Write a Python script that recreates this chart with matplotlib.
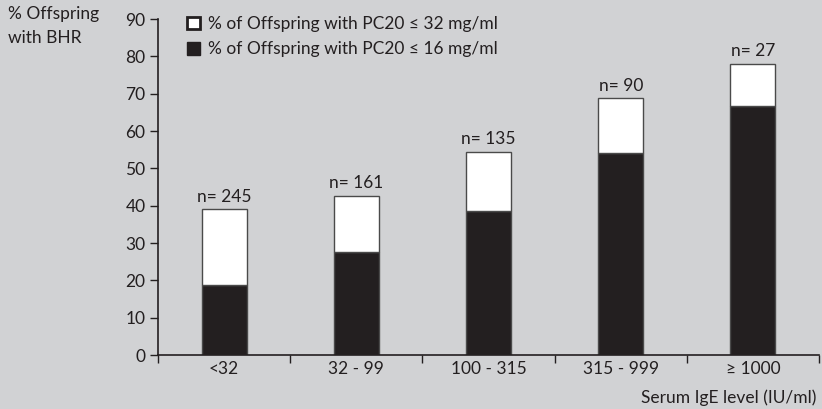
import matplotlib.pyplot as plt
from matplotlib.patches import Patch
import numpy as np

# data
categories = ['<32', '32 - 99', '100 - 315', '315 - 999', '\u2265 1000']
pc20_32 = [39.0, 42.7, 54.4, 68.8, 78.0]   # % with PC20 <= 32 mg/ml (total bar)
pc20_16 = [18.8, 27.6, 38.6, 54.2, 66.8]   # % with PC20 <= 16 mg/ml (black part)
n_labels = ['n= 245', 'n= 161', 'n= 135', 'n= 90', 'n= 27']

bg = '#d1d2d4'
dark = '#231f20'
edge = '#4a4a4a'

plt.rcParams['font.family'] = ['Lato', 'DejaVu Sans']
plt.rcParams['font.size'] = 12.5

fig = plt.figure(figsize=(8.22, 4.09), dpi=100, facecolor=bg)
ax = fig.add_axes([0.1922, 0.132, 0.8042, 0.8215])
ax.set_facecolor(bg)

x = np.arange(len(categories))
w = 0.34
upper = [a - b for a, b in zip(pc20_32, pc20_16)]
ax.bar(x, pc20_16, width=w, color=dark, edgecolor=edge, linewidth=1)
ax.bar(x, upper, width=w, bottom=pc20_16, color='white', edgecolor=edge, linewidth=1)

for xi, top, lab in zip(x, pc20_32, n_labels):
    ax.text(xi, top + 1.2, lab, ha='center', va='bottom', color=dark)

ax.set_xlim(-0.5, 4.5)
ax.set_ylim(0, 90)
ax.set_yticks(range(0, 91, 10))
ax.set_xticks(np.arange(-0.5, 5, 1))
ax.set_xticklabels([])
ax.set_xticks(x, minor=True)
ax.set_xticklabels(categories, minor=True)
ax.tick_params(axis='x', which='minor', length=0, pad=4, colors=dark)
ax.tick_params(axis='x', which='major', length=6, width=1, direction='out', color=dark)
ax.tick_params(axis='y', length=6, width=1, direction='out', color=dark, labelcolor=dark, pad=3)
for s in ['top', 'right']:
    ax.spines[s].set_visible(False)
for s in ['left', 'bottom']:
    ax.spines[s].set_color(dark)
    ax.spines[s].set_linewidth(1.2)

handles = [Patch(facecolor='white', edgecolor=dark, linewidth=2),
           Patch(facecolor=dark, edgecolor=dark)]
labels = ['% of Offspring with PC20 \u2264 32 mg/ml', '% of Offspring with PC20 \u2264 16 mg/ml']
fig.legend(handles, labels, loc='upper left', bbox_to_anchor=(180 / 822, 1 - 9 / 409),
           frameon=False, handlelength=0.75, handleheight=0.75, handletextpad=0.45,
           labelspacing=0.55, labelcolor=dark, borderaxespad=0)

fig.text(8 / 822, 1 - 6 / 409, '% Offspring\nwith BHR', ha='left', va='top', color=dark,
         linespacing=1.6)
fig.text(816 / 822, 1 - 398 / 409, 'Serum IgE level (IU/ml)', ha='right', va='center', color=dark)

fig.savefig('out.png', dpi=100, facecolor=bg)
